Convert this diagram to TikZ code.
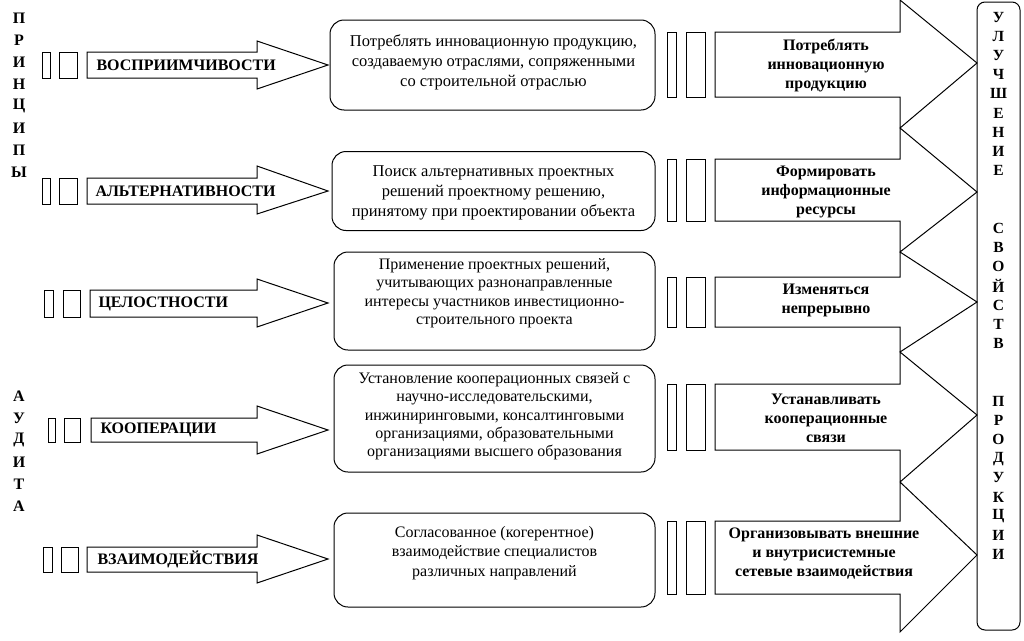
\documentclass[tikz,border=0pt]{standalone}
\usepackage{fontspec}
\setmainfont{Liberation Serif}
\begin{document}
\begin{tikzpicture}[x=1pt,y=-1pt,line width=1pt,line join=miter]
\tikzset{
  midbox/.style={draw,rounded corners=14pt,inner sep=0pt},
  midtext/.style={align=center,inner sep=0pt,font=\fontsize{16.5}{20.3}\selectfont},
  lbl/.style={anchor=west,inner sep=0pt,font=\bfseries\fontsize{16}{18}\selectfont},
  rlbl/.style={align=center,inner sep=0pt,font=\bfseries\fontsize{16}{19}\selectfont},
  vlet/.style={inner sep=0pt,font=\bfseries\fontsize{16}{18}\selectfont},
  rlet/.style={inner sep=0pt,font=\bfseries\fontsize{15.5}{18}\selectfont},
  thin/.style={draw}
}
\useasboundingbox (0,0) rectangle (1024,640);

% ---------- left vertical words ----------
\foreach \l [count=\i from 0] in {П,Р,И,Н,Ц,И,П,Ы}
  \node[vlet] (p\i) at (19,18+22*\i) {\l};
\foreach \l [count=\i from 0] in {А,У,Д,И,Т,А}
  \node[vlet] (a\i) at (19,396+22*\i) {\l};

% ---------- left arrows ----------
\newcommand{\leftarrowbox}[9]{%
  \draw (#1,#6) rectangle (#2,#7);
  \draw (#3,#6) rectangle (#4,#7);
  \draw (#5,#6) -- (257,#6) -- (257,#8) -- (328,#9) -- (257,{#8+48}) -- (257,#7) -- (#5,#7) -- cycle;
}
\leftarrowbox{42}{50}{59}{77}{87}{52}{78}{41}{65}
\leftarrowbox{42}{50}{59}{77}{87}{178}{204}{166}{191}
\leftarrowbox{44}{53}{63}{80}{90}{290}{317}{279}{303}
\leftarrowbox{48}{55}{64}{80}{91}{418}{442}{406}{430}
\leftarrowbox{43}{52}{61}{78}{87}{547}{572}{535}{559}

\node[lbl] (l1) at (96,65) {ВОСПРИИМЧИВОСТИ};
\node[lbl] (l2) at (95,191) {АЛЬТЕРНАТИВНОСТИ};
\node[lbl] (l3) at (98,303.5) {ЦЕЛОСТНОСТИ};
\node[lbl] (l4) at (100,430) {КООПЕРАЦИИ};
\node[lbl] (l5) at (97,559.5) {ВЗАИМОДЕЙСТВИЯ};

% ---------- middle rounded boxes ----------
\node[midbox,minimum width=325pt,minimum height=90pt] (m1) at (492.5,65) {};
\node[midbox,minimum width=323pt,minimum height=79pt] (m2) at (493.5,191) {};
\node[midbox,minimum width=321pt,minimum height=98pt] (m3) at (494.5,301) {};
\node[midbox,minimum width=321pt,minimum height=107pt] (m4) at (494.5,418.5) {};
\node[midbox,minimum width=321pt,minimum height=94pt] (m5) at (494.5,560) {};

\node[midtext] (t1) at (493.5,62.5) {Потреблять инновационную продукцию,\\создаваемую отраслями, сопряженными\\со строительной отраслью};
\node[midtext] (t2) at (493.5,193) {Поиск альтернативных проектных\\решений проектному решению,\\принятому при проектировании объекта};
\node[midtext,font=\fontsize{16}{18.5}\selectfont] (t3) at (494.5,293) {Применение проектных решений,\\учитывающих разнонаправленные\\интересы участников инвестиционно-\\строительного проекта};
\node[midtext,font=\fontsize{16}{18.3}\selectfont] (t4) at (494.5,416.5) {Установление кооперационных связей с\\научно-исследовательскими,\\инжиниринговыми, консалтинговыми\\организациями, образовательными\\организациями высшего образования};
\node[midtext,font=\fontsize{16}{19.5}\selectfont] (t5) at (494.5,553) {Согласованное (когерентное)\\взаимодействие специалистов\\различных направлений};

% ---------- thin rectangles on the right ----------
\foreach \ya/\yb in {32/97,159/221,277/327,384/450,521/594}{
  \draw (667,\ya) rectangle (676,\yb);
  \draw (686,\ya) rectangle (705,\yb);
}

% ---------- merged big arrow ----------
\draw (715,32) -- (900,32) -- (900,0) -- (977,63) -- (900,128) -- (977,192)
  -- (900,252) -- (977,302) -- (900,352) -- (977,415) -- (900,482) -- (977,555)
  -- (900,632) -- (900,594) -- (715,594) -- (715,521) -- (900,521) -- (900,450)
  -- (715,450) -- (715,384) -- (900,384) -- (900,327) -- (715,327) -- (715,277)
  -- (900,277) -- (900,221) -- (715,221) -- (715,159) -- (900,159) -- (900,97)
  -- (715,97) -- cycle;

\node[rlbl] (r1) at (826,65) {Потреблять\\инновационную\\продукцию};
\node[rlbl] (r2) at (826,192) {Формировать\\информационные\\ресурсы};
\node[rlbl] (r3) at (826,300) {Изменяться\\непрерывно};
\node[rlbl] (r4) at (826,418) {Устанавливать\\кооперационные\\связи};
\node[rlbl] (r5) at (824,554) {Организовывать внешние\\и внутрисистемные\\сетевые взаимодействия};

% ---------- right vertical box ----------
\node[draw,rounded corners=8pt,minimum width=43pt,minimum height=628pt,inner sep=0pt] (rb) at (998.5,316) {};
\foreach \l [count=\i from 0] in {У,Л,У,Ч,Ш,Е,Н,И,Е,{},{},С,В,О,Й,С,Т,В,{},{},П,Р,О,Д,У,К,Ц,И,И}
  \node[rlet] (v\i) at (998.5,17+19.2*\i) {\l};
\end{tikzpicture}
\end{document}
